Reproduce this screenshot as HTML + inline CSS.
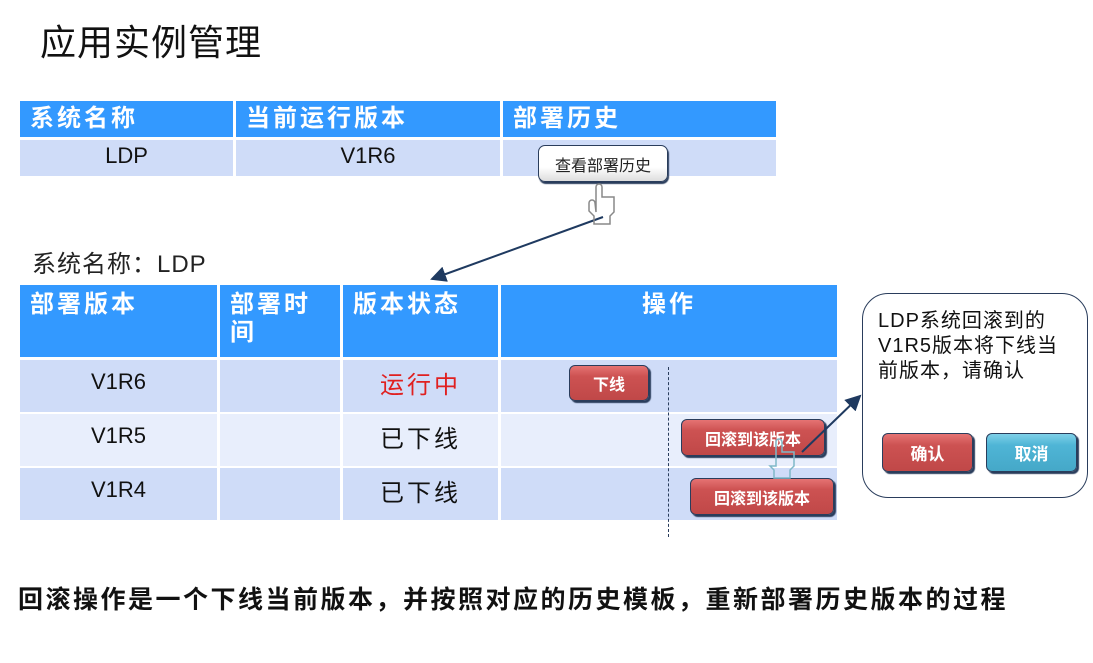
<!DOCTYPE html>
<html><head><meta charset="utf-8"><style>
body{margin:0;width:1093px;height:663px;background:#fff;position:relative;overflow:hidden;font-family:"Liberation Sans","Noto Sans CJK SC",sans-serif;}
.a{position:absolute;box-sizing:border-box;}
.h{background:#3399ff;color:#fff;font-weight:bold;font-size:24px;letter-spacing:3px;line-height:28px;}
.r1{background:#cfdcf8;}
.r2{background:#e8eefc;}
.c{display:flex;align-items:center;justify-content:center;font-size:22px;color:#111;padding-bottom:8px;}
.cn{font-size:24px;letter-spacing:3px;}
.btn{border-radius:6px;color:#fff;font-weight:bold;font-size:16px;display:flex;align-items:center;justify-content:center;border:1.5px solid #2a3d5c;box-shadow:2px 2px 1px #2a3d5c;}
.red{background:linear-gradient(#e57373,#cd5252 30%,#c04848);}
.blue{background:linear-gradient(#7fd0e8,#4fb5d6 30%,#45a8c8);}
</style></head><body>
<div class="a" style="left:40px;top:14px;font-size:36px;color:#111;letter-spacing:1px;">应用实例管理</div>

<div class="a h" style="left:20px;top:101px;width:213px;height:36px;padding:4px 10px;">系统名称</div>
<div class="a h" style="left:236px;top:101px;width:264px;height:36px;padding:4px 10px;">当前运行版本</div>
<div class="a h" style="left:503px;top:101px;width:273px;height:36px;padding:4px 10px;">部署历史</div>
<div class="a r1 c" style="left:20px;top:140px;width:213px;height:36px;padding-bottom:4px;">LDP</div>
<div class="a r1 c" style="left:236px;top:140px;width:264px;height:36px;padding-bottom:4px;">V1R6</div>
<div class="a r1" style="left:503px;top:140px;width:273px;height:36px;"></div>
<div class="a" style="left:538px;top:145px;width:130px;height:37px;background:linear-gradient(#fff,#fff 60%,#ddd);border:1.5px solid #2a3d5c;border-radius:7px;box-shadow:1px 2px 1px #2a3d5c;font-size:16px;color:#222;display:flex;align-items:center;justify-content:center;">查看部署历史</div>

<div class="a" style="left:32px;top:244px;font-size:24px;color:#222;letter-spacing:1px;">系统名称：LDP</div>

<div class="a h" style="left:20px;top:285px;width:197px;height:72px;padding:6px 10px;">部署版本</div>
<div class="a h" style="left:220px;top:285px;width:120px;height:72px;padding:6px 10px;">部署时<br>间</div>
<div class="a h" style="left:343px;top:285px;width:155px;height:72px;padding:6px 10px;">版本状态</div>
<div class="a h" style="left:501px;top:285px;width:336px;height:72px;padding:6px 0;text-align:center;">操作</div>

<div class="a r1 c" style="left:20px;top:360px;width:197px;height:52px;">V1R6</div>
<div class="a r1" style="left:220px;top:360px;width:120px;height:52px;"></div>
<div class="a r1 c cn" style="left:343px;top:360px;width:155px;height:52px;color:#e02020;">运行中</div>
<div class="a r1" style="left:501px;top:360px;width:336px;height:52px;"></div>

<div class="a r2 c" style="left:20px;top:414px;width:197px;height:52px;">V1R5</div>
<div class="a r2" style="left:220px;top:414px;width:120px;height:52px;"></div>
<div class="a r2 c cn" style="left:343px;top:414px;width:155px;height:52px;">已下线</div>
<div class="a r2" style="left:501px;top:414px;width:336px;height:52px;"></div>

<div class="a r1 c" style="left:20px;top:468px;width:197px;height:52px;">V1R4</div>
<div class="a r1" style="left:220px;top:468px;width:120px;height:52px;"></div>
<div class="a r1 c cn" style="left:343px;top:468px;width:155px;height:52px;">已下线</div>
<div class="a r1" style="left:501px;top:468px;width:336px;height:52px;"></div>

<div class="a" style="left:668px;top:367px;height:170px;border-left:1.5px dashed #2a3d5c;"></div>

<div class="a btn red" style="left:569px;top:365px;width:80px;height:36px;">下线</div>
<div class="a btn red" style="left:681px;top:419px;width:144px;height:37px;">回滚到该版本</div>
<div class="a btn red" style="left:690px;top:478px;width:144px;height:37px;">回滚到该版本</div>

<div class="a" style="left:862px;top:293px;width:226px;height:205px;border:1.5px solid #2a3d5c;border-radius:26px;"></div>
<div class="a" style="left:878px;top:309px;font-size:20px;letter-spacing:1px;line-height:25px;color:#111;white-space:nowrap;">LDP系统回滚到的<br>V1R5版本将下线当<br>前版本，请确认</div>
<div class="a btn red" style="left:882px;top:433px;width:91px;height:39px;font-size:17px;">确认</div>
<div class="a btn blue" style="left:986px;top:433px;width:91px;height:39px;font-size:17px;">取消</div>

<svg class="a" style="left:0;top:0" width="1093" height="663">
<defs><marker id="m" markerWidth="8" markerHeight="8" refX="7" refY="4" orient="auto"><path d="M0,0L8,4L0,8z" fill="#1f3a60"/></marker></defs>
<line x1="603" y1="217" x2="432" y2="279" stroke="#1f3a60" stroke-width="2" marker-end="url(#m)"/>
<line x1="802" y1="452" x2="860" y2="396" stroke="#1f3a60" stroke-width="2" marker-end="url(#m)"/>
<path d="M596,212v-25a3,3 0 0 1 6,0v10h12v15l-4,4v8h-16v-8l-5,-5v-8a3,3 0 0 1 6,0z" fill="none" stroke="#888" stroke-width="1.5"/>
<path d="M776,466v-24a3,3 0 0 1 6,0v10h12v14l-4,4v8h-16v-8l-4,-4z" fill="none" stroke="#7fb8c8" stroke-width="1.5"/>
</svg>

<div class="a" style="left:18px;top:580px;font-size:25px;letter-spacing:2.5px;font-weight:bold;color:#111;white-space:nowrap;">回滚操作是一个下线当前版本，并按照对应的历史模板，重新部署历史版本的过程</div>
</body></html>
